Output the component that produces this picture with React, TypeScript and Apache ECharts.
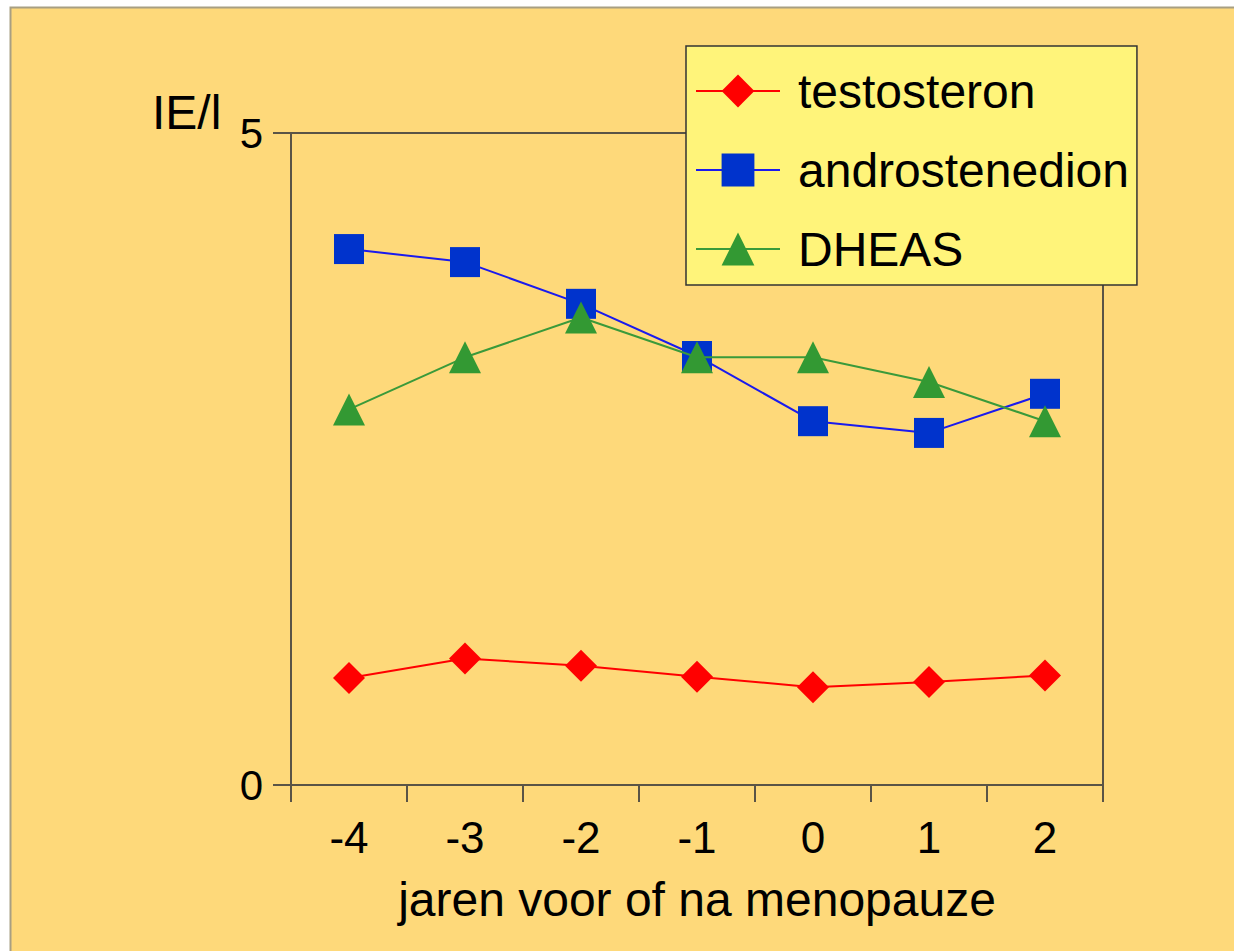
import React, { useEffect, useRef } from "react";
import * as echarts from "echarts";

const categories = ["-4", "-3", "-2", "-1", "0", "1", "2"];
const testosteron = [0.82, 0.97, 0.915, 0.83, 0.75, 0.79, 0.84];
const androstenedion = [4.11, 4.01, 3.69, 3.29, 2.79, 2.7, 3.0];
const dheas = [2.88, 3.28, 3.585, 3.28, 3.28, 3.09, 2.79];
const yTicks = [0, 5];

const FONT = "'Liberation Sans', Arial, Helvetica, sans-serif";
const AXIS = "#5a5446";

export default function App() {
  const ref = useRef<HTMLDivElement>(null);
  useEffect(() => {
    if (!ref.current) return;
    const chart = echarts.init(ref.current, undefined, { renderer: "svg" });
    chart.setOption({
      animation: false,
      backgroundColor: "#ffffff",
      textStyle: { fontFamily: FONT },
      graphic: [
        {
          type: "rect",
          z: -10,
          silent: true,
          shape: { x: 10.5, y: 7.5, width: 1240, height: 960 },
          style: { fill: "#FED97A", stroke: "#a89f82", lineWidth: 2 },
        },
        {
          type: "text",
          style: {
            text: "IE/l",
            x: 152,
            y: 112,
            verticalAlign: "middle",
            align: "left",
            fontSize: 48,
            fontFamily: FONT,
            fill: "#000",
          },
        },
      ],
      legend: {
        left: 686,
        top: 46,
        orient: "vertical",
        selectedMode: false,
        backgroundColor: "#FFF47A",
        borderColor: "#333333",
        borderWidth: 1.5,
        padding: [21, 8, 12, 9],
        itemWidth: 84,
        itemHeight: 41,
        itemGap: 31,
        textStyle: {
          fontSize: 48,
          lineHeight: 48,
          color: "#000",
          fontFamily: FONT,
          padding: [0, 0, 0, 13],
        },
        data: ["testosteron", "androstenedion", "DHEAS"],
      },
      grid: {
        left: 291,
        right: 131,
        top: 133,
        bottom: 166,
        show: true,
        borderColor: AXIS,
        borderWidth: 2,
        backgroundColor: "transparent",
      },
      xAxis: {
        type: "category",
        data: categories,
        boundaryGap: true,
        name: "jaren voor of na menopauze",
        nameLocation: "middle",
        nameGap: 90,
        nameTextStyle: { fontSize: 48, color: "#000", fontFamily: FONT },
        axisLine: { lineStyle: { color: AXIS, width: 2 } },
        axisTick: { show: true, length: 17, lineStyle: { color: AXIS, width: 2 } },
        axisLabel: { fontSize: 44, color: "#000", margin: 30, fontFamily: FONT },
        splitLine: { show: false },
      },
      yAxis: {
        type: "value",
        min: yTicks[0],
        max: yTicks[1],
        interval: 5,
        axisLine: { show: true, lineStyle: { color: AXIS, width: 2 } },
        axisTick: { show: true, length: 18, lineStyle: { color: AXIS, width: 2 } },
        axisLabel: { fontSize: 42, color: "#000", margin: 28, fontFamily: FONT },
        splitLine: { show: false },
      },
      series: [
        {
          name: "testosteron",
          type: "line",
          data: testosteron,
          symbol: "diamond",
          symbolSize: 32,
          lineStyle: { color: "#ff0000", width: 2 },
          itemStyle: { color: "#ff0000" },
          z: 3,
        },
        {
          name: "androstenedion",
          type: "line",
          data: androstenedion,
          symbol: "rect",
          symbolSize: 30,
          lineStyle: { color: "#1a1aee", width: 2 },
          itemStyle: { color: "#0033cc" },
          z: 2,
        },
        {
          name: "DHEAS",
          type: "line",
          data: dheas,
          symbol: "triangle",
          symbolSize: 32,
          lineStyle: { color: "#3a9a3a", width: 2 },
          itemStyle: { color: "#339933" },
          z: 4,
        },
      ],
    });
    return () => chart.dispose();
  }, []);
  return (
    <div
      ref={ref}
      style={{ position: "fixed", left: 0, top: 0, width: 1234, height: 951 }}
    />
  );
}
